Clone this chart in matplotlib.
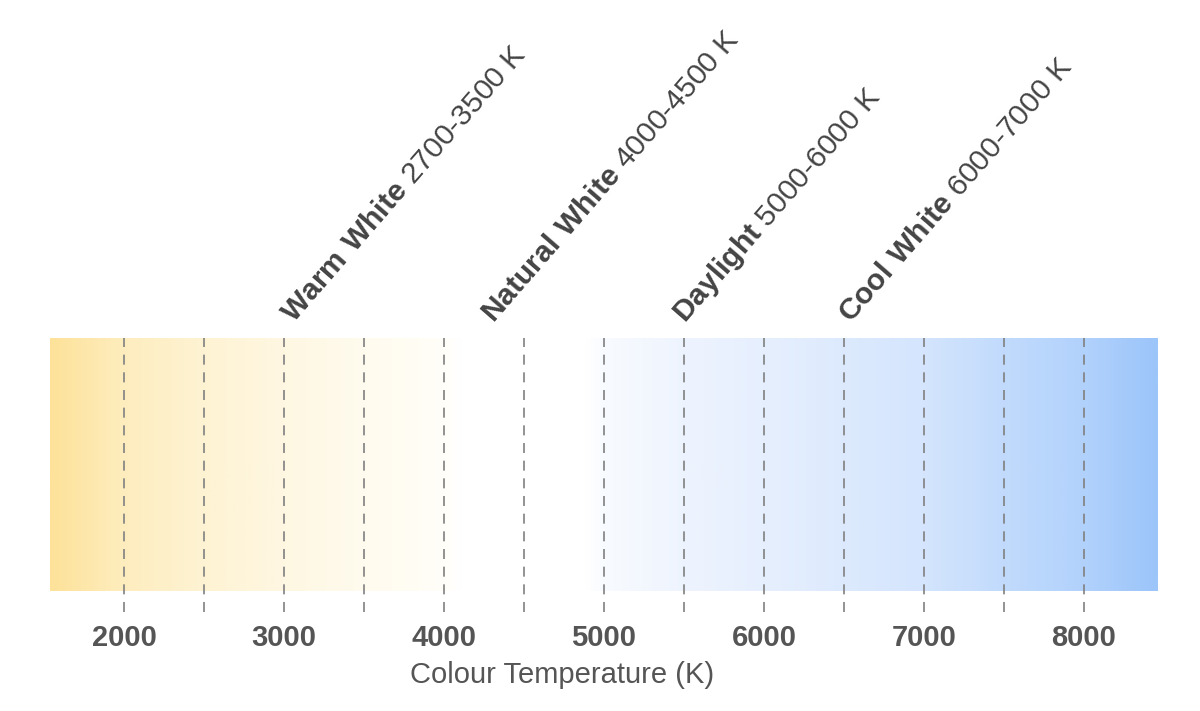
import matplotlib
matplotlib.use('Agg')
import matplotlib.pyplot as plt
import numpy as np
from matplotlib.colors import LinearSegmentedColormap

plt.rcParams.update({
    'font.family': ['Liberation Sans', 'DejaVu Sans'],
    'mathtext.fontset': 'custom',
    'mathtext.rm': 'Liberation Sans',
    'mathtext.bf': 'Liberation Sans:bold',
})

# data
x_min, x_max = 1537.5, 8462.5
tick_values = [2000, 3000, 4000, 5000, 6000, 7000, 8000]
grid_values = [2000, 2500, 3000, 3500, 4000, 4500, 5000, 5500, 6000, 6500, 7000, 7500, 8000]
band_names = ['Warm White', 'Natural White', 'Daylight', 'Cool White']
band_ranges = ['2700-3500 K', '4000-4500 K', '5000-6000 K', '6000-7000 K']
label_x = [3060, 4310, 5505, 6540]

# colour stops of the gradient bar
stop_temps = [1537.5, 2000, 2500, 3000, 3500, 4000, 4100, 4900, 5000, 5500, 6000, 6500, 7000, 7500, 8000, 8462.5]
stop_colors = ['#fee29a', '#fdedbf', '#fef3d3', '#fef7e2', '#fffbee', '#fffef8', '#ffffff', '#ffffff',
               '#f8fbff', '#eef4fe', '#e6effe', '#ddeafd', '#d4e5fd', '#c2dbfc', '#b2d2fc', '#9cc5fa']

fig = plt.figure(figsize=(12, 7.11), dpi=100)
ax = fig.add_axes([50 / 1200, 1 - 612 / 711, 1108 / 1200, 274 / 711])

pos = [(t - x_min) / (x_max - x_min) for t in stop_temps]
cmap = LinearSegmentedColormap.from_list('cct', list(zip(pos, stop_colors)))
bar_bottom = 21 / 274
grad = np.linspace(0, 1, 1000).reshape(1, -1)
ax.imshow(grad, cmap=cmap, aspect='auto', extent=[x_min, x_max, bar_bottom, 1], zorder=1)

for g in grid_values:
    ax.plot([g, g], [0, 1], color='#808080', lw=1.2, linestyle=(0, (6, 4.6)), zorder=2)

ax.set_xlim(x_min, x_max)
ax.set_ylim(0, 1)
ax.set_yticks([])
ax.set_xticks(tick_values)
ax.set_xticklabels([str(t) for t in tick_values], fontsize=21, fontweight='bold', color='#555555')
ax.tick_params(axis='x', length=0, pad=9)
for s in ax.spines.values():
    s.set_visible(False)

fig.text(562 / 1200, 1 - 675 / 711, 'Colour Temperature (K)', fontsize=21, color='#555555',
         ha='center', va='center')

for name, rng, x in zip(band_names, band_ranges, label_x):
    label = r'$\mathbf{' + name.replace(' ', r'\ ') + '}$ ' + rng
    ax.text(x, 1.052, label, rotation=49, rotation_mode='anchor', ha='left', va='baseline',
            fontsize=21.6, color='#444444', clip_on=False)

fig.savefig('out.png', dpi=100, facecolor='white')
